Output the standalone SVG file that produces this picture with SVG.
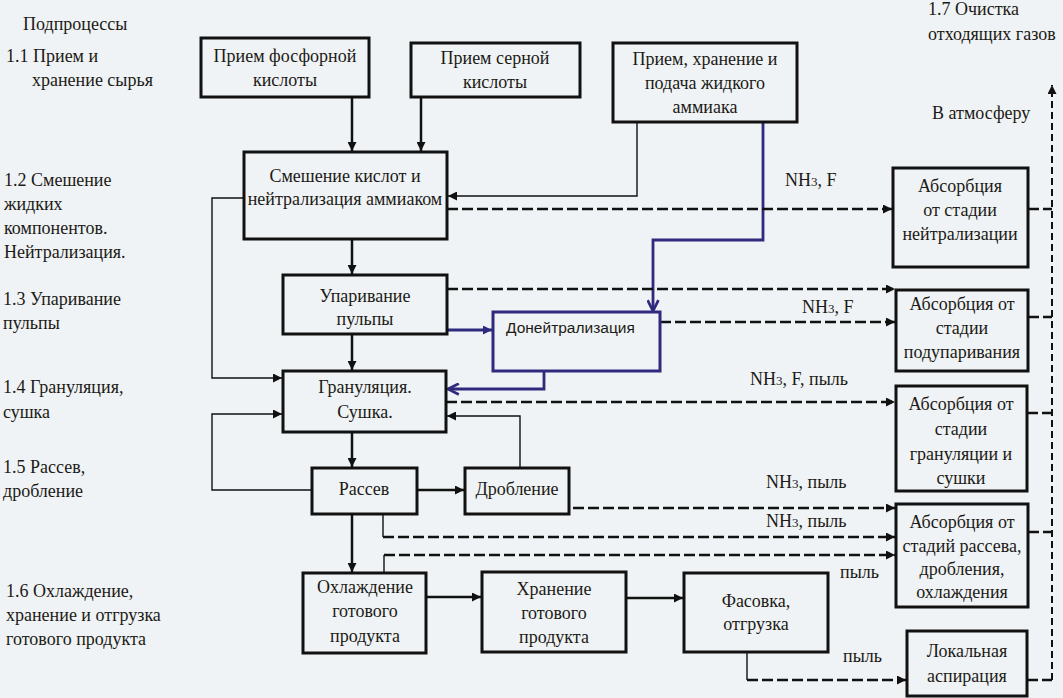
<svg xmlns="http://www.w3.org/2000/svg" width="1063" height="698" viewBox="0 0 1063 698">
<defs>
<style>
text{font-family:'Liberation Serif','Times New Roman',serif;font-size:18px;fill:#1c1a16}
text.sm{font-family:'Liberation Sans',Arial,sans-serif;font-size:15.5px}
.c{text-anchor:middle}
.box{fill:none;stroke:#111;stroke-width:3}
.bbox{fill:none;stroke:#2f2a7d;stroke-width:3}
.s{fill:none;stroke:#111;stroke-width:2.5}
.t{fill:none;stroke:#111;stroke-width:1.4}
.b{fill:none;stroke:#2f2a7d;stroke-width:2.8}
.d{fill:none;stroke:#111;stroke-width:2.5;stroke-dasharray:11 4}
.dv{fill:none;stroke:#111;stroke-width:2;stroke-dasharray:7 4}
</style>
<marker id="a" viewBox="0 0 10 10" refX="10" refY="5" markerWidth="11" markerHeight="9" markerUnits="userSpaceOnUse" orient="auto"><path d="M0,0 L10,5 L0,10 z" fill="#111"/></marker>
<marker id="ab" viewBox="0 0 12 12" refX="11" refY="6" markerWidth="13" markerHeight="13" markerUnits="userSpaceOnUse" orient="auto"><path d="M1,1 L11,6 L1,11" fill="none" stroke="#2f2a7d" stroke-width="2.5"/></marker>
<marker id="abf" viewBox="0 0 10 10" refX="10" refY="5" markerWidth="11" markerHeight="9" markerUnits="userSpaceOnUse" orient="auto"><path d="M0,0 L10,5 L0,10 z" fill="#2f2a7d"/></marker>
</defs>
<rect width="1063" height="698" fill="#eff3f5"/>

<g id="labels">
<text x="23" y="30">Подпроцессы</text>
<text x="6" y="62">1.1 Прием и</text>
<text x="32" y="86">хранение сырья</text>
<text x="4" y="186">1.2 Смешение</text>
<text x="4" y="210">жидких</text>
<text x="4" y="234">компонентов.</text>
<text x="4" y="258">Нейтрализация.</text>
<text x="3" y="305">1.3 Упаривание</text>
<text x="3" y="329">пульпы</text>
<text x="3" y="393">1.4 Грануляция,</text>
<text x="3" y="418">сушка</text>
<text x="3" y="473">1.5 Рассев,</text>
<text x="3" y="497">дробление</text>
<text x="6" y="597">1.6 Охлаждение,</text>
<text x="6" y="621">хранение и отгрузка</text>
<text x="6" y="645">готового продукта</text>
<text x="928" y="15">1.7 Очистка</text>
<text x="928" y="40">отходящих газов</text>
<text x="932" y="119">В атмосферу</text>
<text x="785" y="186">NH<tspan font-size="13">3</tspan>, F</text>
<text x="802" y="313">NH<tspan font-size="13">3</tspan>, F</text>
<text x="750" y="385">NH<tspan font-size="13">3</tspan>, F, пыль</text>
<text x="766" y="488">NH<tspan font-size="13">3</tspan>, пыль</text>
<text x="766" y="527">NH<tspan font-size="13">3</tspan>, пыль</text>
<text x="840" y="578">пыль</text>
<text x="843" y="662">пыль</text>
</g>

<g id="connectors">
<path class="s" d="M352,97 V151" marker-end="url(#a)"/>
<path class="s" d="M421,97 V151" marker-end="url(#a)"/>
<path class="s" d="M352,239 V274" marker-end="url(#a)"/>
<path class="s" d="M352,334 V370" marker-end="url(#a)"/>
<path class="s" d="M352,432 V467" marker-end="url(#a)"/>
<path class="s" d="M352,514 V572" marker-end="url(#a)"/>
<path class="s" d="M417,490 H464" marker-end="url(#a)"/>
<path class="s" d="M426,597 H481" marker-end="url(#a)"/>
<path class="s" d="M626,598 H683" marker-end="url(#a)"/>
<path class="t" d="M637,122 V196 H448" marker-end="url(#a)"/>
<path class="t" d="M244,198 H212 V378 H282" marker-end="url(#a)"/>
<path class="t" d="M312,490 H212 V414 H282" marker-end="url(#a)"/>
<path class="t" d="M520,468 V416 H447" marker-end="url(#a)"/>
<path class="t" d="M383,514 V537"/>
<path class="t" d="M384,573 V555"/>
<path class="t" d="M747,652 V680"/>
<path class="b" d="M763,122 V240 H653 V311" marker-end="url(#ab)"/>
<path class="b" d="M447,330 H492" marker-end="url(#abf)"/>
<path class="b" d="M544,371 V389 H448" marker-end="url(#ab)"/>
<path class="d" d="M447,209 H892" marker-end="url(#a)"/>
<path class="d" d="M447,289 H895" marker-end="url(#a)"/>
<path class="d" d="M660,322 H895" marker-end="url(#a)"/>
<path class="d" d="M446,402 H895" marker-end="url(#a)"/>
<path class="d" d="M573,508 H895" marker-end="url(#a)"/>
<path class="d" d="M383,537 H895" marker-end="url(#a)"/>
<path class="d" d="M384,555 H895" marker-end="url(#a)"/>
<path class="d" d="M747,680 H906" marker-end="url(#a)"/>
<path class="d" d="M1028,209 H1052"/>
<path class="d" d="M1028,317 H1052"/>
<path class="d" d="M1027,413 H1052"/>
<path class="d" d="M1028,532 H1052"/>
<path class="d" d="M1027,680 H1052"/>
<path class="dv" d="M1052,680 V85" marker-end="url(#a)"/>
</g>

<g id="nodes">
<g id="n1"><rect class="box" x="201" y="38" width="168" height="59"/><text class="c" x="285" y="62">Прием фосфорной</text><text class="c" x="285" y="86">кислоты</text></g>
<g id="n2"><rect class="box" x="411" y="43" width="169" height="54"/><text class="c" x="495" y="64">Прием серной</text><text class="c" x="495" y="88">кислоты</text></g>
<g id="n3"><rect class="box" x="613" y="43" width="184" height="79"/><text class="c" x="705" y="65">Прием, хранение и</text><text class="c" x="705" y="89">подача жидкого</text><text class="c" x="705" y="113">аммиака</text></g>
<g id="n4"><rect class="box" x="244" y="152" width="203" height="87"/><text class="c" x="345" y="182">Смешение кислот и</text><text class="c" x="345" y="205">нейтрализация аммиаком</text></g>
<g id="n5"><rect class="box" x="283" y="275" width="164" height="59"/><text class="c" x="365" y="302">Упаривание</text><text class="c" x="365" y="325">пульпы</text></g>
<g id="n6"><rect class="bbox" x="493" y="312" width="167" height="59"/><text class="sm" x="506" y="333">Донейтрализация</text></g>
<g id="n7"><rect class="box" x="283" y="371" width="163" height="61"/><text class="c" x="365" y="393">Грануляция.</text><text class="c" x="365" y="418">Сушка.</text></g>
<g id="n8"><rect class="box" x="312" y="468" width="105" height="46"/><text class="c" x="364" y="495">Рассев</text></g>
<g id="n9"><rect class="box" x="465" y="468" width="104" height="46"/><text class="c" x="517" y="495">Дробление</text></g>
<g id="n10"><rect class="box" x="303" y="573" width="123" height="80"/><text class="c" x="365" y="593">Охлаждение</text><text class="c" x="365" y="617">готового</text><text class="c" x="365" y="642">продукта</text></g>
<g id="n11"><rect class="box" x="482" y="572" width="144" height="80"/><text class="c" x="554" y="595">Хранение</text><text class="c" x="554" y="619">готового</text><text class="c" x="554" y="643">продукта</text></g>
<g id="n12"><rect class="box" x="684" y="573" width="144" height="79"/><text class="c" x="756" y="607">Фасовка,</text><text class="c" x="756" y="630">отгрузка</text></g>
<g id="n13"><rect class="box" x="893" y="168" width="135" height="99"/><text class="c" x="960" y="192">Абсорбция</text><text class="c" x="960" y="216">от стадии</text><text class="c" x="960" y="240">нейтрализации</text></g>
<g id="n14"><rect class="box" x="896" y="290" width="132" height="81"/><text class="c" x="962" y="310">Абсорбция от</text><text class="c" x="962" y="334">стадии</text><text class="c" x="962" y="358">подупаривания</text></g>
<g id="n15"><rect class="box" x="896" y="386" width="131" height="105"/><text class="c" x="961" y="410">Абсорбция от</text><text class="c" x="961" y="435">стадии</text><text class="c" x="961" y="460">грануляции и</text><text class="c" x="961" y="484">сушки</text></g>
<g id="n16"><rect class="box" x="896" y="504" width="132" height="103"/><text class="c" x="962" y="528">Абсорбция от</text><text class="c" x="962" y="552">стадий рассева,</text><text class="c" x="962" y="575">дробления,</text><text class="c" x="962" y="598">охлаждения</text></g>
<g id="n17"><rect class="box" x="907" y="631" width="120" height="65"/><text class="c" x="967" y="657">Локальная</text><text class="c" x="967" y="682">аспирация</text></g>
</g>
</svg>
